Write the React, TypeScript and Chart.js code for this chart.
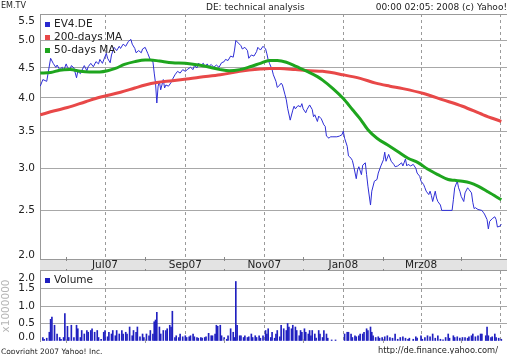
import React, { useEffect, useRef } from 'react';
import { Chart, registerables, LinearScale } from 'chart.js';

Chart.register(...registerables);

// ---------------- data ----------------
// x values are day numbers counted from 2007-01-01 (day 0)
const monthDays = [151, 181, 212, 243, 273, 304, 334, 365, 396, 425, 456, 486]; // Jun07 .. Mai08
const monthLabels = ['', 'Jul07', '', 'Sep07', '', 'Nov07', '', 'Jan08', '', 'Mrz08', '', ''];
const priceTicks = [2.0, 2.5, 3.0, 3.5, 4.0, 4.5, 5.0, 5.5];
const volumeTicks = [0, 0.5, 1.0, 1.5, 2.0];

const priceDays = [
  131, 133, 136, 139, 141, 143, 144, 146, 148, 149,
  151, 152, 154, 155, 157, 159, 160, 162, 163, 165,
  167, 168, 170, 172, 174, 176, 177, 179, 180, 182,
  183, 185, 186, 188, 190, 192, 193, 195, 197, 199,
  201, 202, 204, 205, 207, 209, 210, 212, 214, 216,
  218, 219, 220, 221, 222, 223, 224, 226, 227, 228,
  230, 232, 233, 235, 237, 239, 241, 243, 245, 247,
  249, 250, 252, 253, 255, 257, 258, 260, 261, 263,
  265, 267, 269, 271, 273, 274, 276, 278, 280, 281,
  282, 284, 286, 287, 289, 291, 292, 294, 296, 298,
  299, 301, 303, 305, 306, 307, 308, 310, 311, 313,
  314, 316, 317, 318, 320, 321, 322, 324, 326, 327,
  328, 330, 332, 333, 334, 336, 337, 339, 341, 342,
  343, 345, 346, 348, 350, 351, 352, 354, 355, 357,
  360, 362, 364, 365, 366, 368, 369, 371, 372, 373,
  375, 376, 377, 379, 380, 382, 383, 384, 386, 387,
  389, 391, 392, 394, 396, 397, 398, 400, 402, 404,
  405, 407, 410, 411, 413, 414, 415, 417, 419, 421,
  422, 424, 425, 427, 428, 429, 431, 432, 433, 434,
  436, 437, 438, 440, 441, 449, 450, 451, 453, 454,
  455, 456, 458, 459, 461, 462, 464, 465, 466, 467,
  469, 472, 473, 474, 476, 477, 478, 480, 482, 483,
  484, 486, 487,
];
const priceValues = [
  4.19, 4.30, 4.27, 4.67, 4.58, 4.51, 4.55, 4.47, 4.51, 4.45,
  4.57, 4.51, 4.47, 4.54, 4.50, 4.33, 4.44, 4.40, 4.45, 4.54,
  4.45, 4.52, 4.58, 4.52, 4.61, 4.57, 4.65, 4.58, 4.64, 4.76,
  4.67, 4.59, 4.73, 4.87, 4.81, 4.89, 4.85, 4.93, 4.89, 4.98,
  5.02, 4.93, 4.85, 4.77, 4.81, 4.77, 4.84, 4.87, 4.76, 4.64,
  4.61, 4.41, 4.24, 3.92, 4.19, 4.27, 4.13, 4.30, 4.16, 4.21,
  4.19, 4.25, 4.30, 4.38, 4.44, 4.41, 4.47, 4.44, 4.48, 4.51,
  4.47, 4.54, 4.50, 4.58, 4.55, 4.58, 4.52, 4.57, 4.52, 4.56,
  4.51, 4.55, 4.51, 4.59, 4.61, 4.65, 4.63, 4.71, 4.69, 4.82,
  5.00, 4.95, 4.90, 4.84, 4.87, 4.81, 4.67, 4.73, 4.71, 4.79,
  4.87, 4.82, 4.89, 4.84, 4.75, 4.64, 4.58, 4.47, 4.38, 4.27,
  4.17, 4.21, 4.24, 4.21, 4.05, 3.97, 3.84, 3.66, 3.81, 3.87,
  3.83, 3.88, 3.86, 3.91, 3.83, 3.77, 3.82, 3.89, 3.82, 3.71,
  3.74, 3.64, 3.72, 3.68, 3.59, 3.57, 3.43, 3.40, 3.42, 3.42,
  3.42, 3.43, 3.45, 3.50, 3.40, 3.29, 3.16, 3.13, 3.10, 3.03,
  2.87, 2.98, 3.02, 2.92, 3.04, 3.07, 2.92, 2.78, 2.56, 2.72,
  2.84, 2.86, 2.94, 3.03, 3.11, 3.21, 3.09, 3.18, 3.09, 3.05,
  3.02, 3.03, 3.07, 3.03, 3.12, 3.03, 3.05, 3.03, 3.05, 3.00,
  2.94, 2.90, 2.84, 2.80, 2.76, 2.72, 2.68, 2.72, 2.67, 2.60,
  2.72, 2.64, 2.60, 2.56, 2.50, 2.50, 2.62, 2.76, 2.84, 2.76,
  2.72, 2.66, 2.60, 2.70, 2.76, 2.74, 2.70, 2.59, 2.52, 2.53,
  2.51, 2.50, 2.48, 2.46, 2.40, 2.30, 2.38, 2.41, 2.43, 2.40,
  2.32, 2.33, 2.35,
];

const ma200Days = [131, 142, 152, 166, 177, 193, 204, 212, 221, 233, 244, 254, 270, 285, 301, 308, 316, 328, 339, 349, 365, 378, 390, 401, 411, 427, 442, 457, 473, 487];
const ma200Values = [3.74, 3.80, 3.85, 3.94, 4.01, 4.09, 4.16, 4.21, 4.25, 4.28, 4.31, 4.34, 4.38, 4.44, 4.48, 4.49, 4.49, 4.47, 4.45, 4.44, 4.38, 4.32, 4.24, 4.19, 4.15, 4.07, 3.97, 3.87, 3.74, 3.64];

const ma50Days = [131, 139, 146, 154, 162, 169, 177, 183, 189, 196, 204, 212, 216, 223, 233, 243, 253, 262, 270, 277, 285, 293, 301, 308, 314, 321, 329, 337, 345, 349, 357, 365, 372, 378, 384, 391, 399, 407, 415, 423, 430, 438, 446, 451, 457, 463, 469, 477, 487];
const ma50Values = [4.41, 4.42, 4.46, 4.47, 4.44, 4.43, 4.43, 4.45, 4.49, 4.56, 4.61, 4.64, 4.64, 4.62, 4.59, 4.58, 4.55, 4.51, 4.47, 4.45, 4.47, 4.52, 4.58, 4.63, 4.63, 4.60, 4.52, 4.44, 4.35, 4.29, 4.15, 3.99, 3.82, 3.68, 3.52, 3.40, 3.31, 3.22, 3.13, 3.07, 2.99, 2.92, 2.86, 2.85, 2.84, 2.82, 2.78, 2.71, 2.62];

// volume in millions
const volumeDays = [
  133, 134, 136, 138, 139, 140, 142, 144, 146, 147, 149, 150, 152, 153, 155, 157, 159, 160, 162, 163,
  165, 167, 168, 170, 171, 173, 175, 176, 178, 180, 181, 183, 184, 186, 187, 189, 190, 192, 194, 195,
  197, 198, 200, 202, 203, 205, 206, 208, 210, 211, 213, 215, 216, 218, 219, 220, 221, 223, 224, 226,
  228, 229, 231, 232, 233, 235, 236, 238, 239, 241, 243, 244, 246, 247, 249, 250, 252, 253, 255, 256,
  258, 259, 261, 263, 264, 266, 267, 268, 270, 271, 273, 275, 276, 278, 280, 281, 282, 283, 285, 286,
  288, 289, 291, 292, 294, 295, 297, 298, 300, 301, 303, 305, 306, 307, 309, 310, 312, 313, 314, 316,
  317, 319, 321, 322, 323, 325, 326, 328, 329, 331, 332, 333, 335, 336, 338, 339, 340, 341, 343, 344,
  346, 347, 349, 350, 352, 353, 356, 359, 366, 368, 369, 371, 372, 374, 375, 377, 378, 380, 381, 383,
  384, 386, 387, 388, 390, 392, 393, 395, 397, 399, 401, 403, 405, 407, 409, 411, 413, 415, 416, 419,
  421, 422, 425, 426, 428, 430, 432, 434, 436, 438, 440, 442, 444, 446, 447, 450, 451, 453, 455, 457,
  459, 461, 462, 464, 465, 467, 469, 471, 472, 475, 476, 477, 479, 480, 482, 483, 485, 487,
];
const volumeValues = [
  0.10, 0.05, 0.08, 0.25, 0.62, 0.68, 0.45, 0.20, 0.10, 0.05, 0.10, 0.78, 0.42, 0.10, 0.45, 0.10, 0.45, 0.35, 0.10, 0.30,
  0.20, 0.30, 0.25, 0.30, 0.35, 0.25, 0.30, 0.10, 0.05, 0.25, 0.30, 0.12, 0.25, 0.20, 0.30, 0.15, 0.30, 0.20, 0.30, 0.20,
  0.25, 0.20, 0.40, 0.15, 0.30, 0.25, 0.40, 0.12, 0.20, 0.10, 0.20, 0.15, 0.30, 0.20, 0.55, 0.60, 0.82, 0.40, 0.20, 0.30,
  0.30, 0.35, 0.45, 0.40, 0.85, 0.10, 0.15, 0.10, 0.20, 0.12, 0.15, 0.10, 0.12, 0.15, 0.20, 0.12, 0.10, 0.08, 0.10, 0.08,
  0.10, 0.12, 0.22, 0.15, 0.15, 0.20, 0.45, 0.42, 0.45, 0.15, 0.10, 0.05, 0.15, 0.35, 0.25, 0.10, 1.70, 0.45, 0.15, 0.15,
  0.10, 0.15, 0.10, 0.12, 0.20, 0.10, 0.15, 0.10, 0.15, 0.08, 0.15, 0.30, 0.20, 0.35, 0.10, 0.25, 0.08, 0.20, 0.30, 0.12,
  0.45, 0.35, 0.30, 0.50, 0.40, 0.35, 0.45, 0.40, 0.30, 0.15, 0.30, 0.25, 0.35, 0.25, 0.20, 0.30, 0.15, 0.30, 0.20, 0.08,
  0.30, 0.20, 0.10, 0.30, 0.20, 0.08, 0.03, 0.03, 0.20, 0.25, 0.25, 0.20, 0.10, 0.15, 0.12, 0.15, 0.20, 0.20, 0.25, 0.35,
  0.30, 0.40, 0.25, 0.15, 0.10, 0.12, 0.08, 0.10, 0.12, 0.15, 0.10, 0.08, 0.20, 0.05, 0.10, 0.12, 0.08, 0.05, 0.08, 0.05,
  0.12, 0.08, 0.15, 0.05, 0.10, 0.15, 0.12, 0.20, 0.08, 0.15, 0.05, 0.03, 0.10, 0.20, 0.08, 0.15, 0.10, 0.12, 0.08, 0.10,
  0.10, 0.08, 0.12, 0.15, 0.20, 0.12, 0.15, 0.20, 0.20, 0.15, 0.40, 0.15, 0.10, 0.12, 0.20, 0.10, 0.08, 0.05,
];

const X_MIN = 130.8;
const X_MAX = 491.4;
const FONT = '"DejaVu Sans", "Verdana", sans-serif';

// ---------------- custom scale: logarithmic of (value + 1) ----------------
const SHIFT = 1;
class ShiftLogScale extends LinearScale {
  static id = 'shiftlog';
  static defaults = {};
  getPixelForValue(value: number) {
    if (value === null || value === undefined) return NaN;
    const a = Math.log(this.min + SHIFT);
    const b = Math.log(this.max + SHIFT);
    return this.getPixelForDecimal((Math.log(value + SHIFT) - a) / (b - a));
  }
  getValueForPixel(pixel: number) {
    const a = Math.log(this.min + SHIFT);
    const b = Math.log(this.max + SHIFT);
    return Math.exp(a + this.getDecimalForPixel(pixel) * (b - a)) - SHIFT;
  }
}
Chart.register(ShiftLogScale as any);

const toXY = (xs: number[], ys: number[]) => xs.map((x, i) => ({ x, y: ys[i] }));

const monthTicks = (s: any) => {
  s.ticks = monthDays.map((v) => ({ value: v }));
};

// y tick labels drawn with clamping inside the plot (as in the original)
const yLabelPlugin = {
  id: 'yLabels',
  afterDraw(chart: any) {
    const s = chart.scales.y;
    const ctx = chart.ctx;
    ctx.save();
    ctx.font = `10.5px ${FONT}`;
    ctx.fillStyle = '#222';
    ctx.textAlign = 'right';
    ctx.textBaseline = 'middle';
    s.ticks.forEach((t: any) => {
      const p = s.getPixelForValue(t.value);
      const y = Math.min(Math.max(p, s.top + 7.5), s.bottom - 4);
      ctx.fillText(t.label, 35, y);
    });
    ctx.restore();
  },
};

const legendPlugin = {
  id: 'insideLegend',
  afterDraw(chart: any) {
    const ctx = chart.ctx;
    const o = chart.options.plugins.insideLegend;
    ctx.save();
    ctx.font = `10.5px ${FONT}`;
    ctx.textAlign = 'left';
    ctx.textBaseline = 'alphabetic';
    chart.data.datasets.forEach((ds: any, i: number) => {
      const y = o.y0 + i * o.dy;
      ctx.fillStyle = ds.legendColor || ds.borderColor || ds.backgroundColor;
      ctx.fillRect(45, y - 5, 5, 5);
      ctx.fillStyle = '#222';
      ctx.fillText(ds.label, 54, y);
    });
    ctx.restore();
  },
};

const bandPlugin = {
  id: 'band',
  beforeDraw(chart: any) {
    const { ctx, chartArea } = chart;
    const { left, right, bottom } = chartArea;
    ctx.save();
    ctx.fillStyle = '#e3e3e3';
    ctx.fillRect(left, bottom, right - left, 11);
    ctx.restore();
  },
  afterDraw(chart: any) {
    const { ctx, chartArea } = chart;
    const { left, right, top, bottom } = chartArea;
    const xs = chart.scales.x;
    ctx.save();
    ctx.strokeStyle = '#999';
    ctx.lineWidth = 1;
    ctx.beginPath();
    ctx.moveTo(left, top + 0.5);
    ctx.lineTo(right, top + 0.5);
    ctx.moveTo(left, bottom + 0.5);
    ctx.lineTo(right, bottom + 0.5);
    ctx.moveTo(left, bottom + 11.5);
    ctx.lineTo(right, bottom + 11.5);
    ctx.stroke();
    ctx.strokeStyle = '#888';
    ctx.beginPath();
    monthDays.forEach((d, i) => {
      if (i % 2 === 0) {
        const x = Math.round(xs.getPixelForValue(d)) + 0.5;
        ctx.moveTo(x, bottom - 2);
        ctx.lineTo(x, bottom + 2);
        ctx.moveTo(x, bottom + 10);
        ctx.lineTo(x, bottom + 13);
      }
    });
    ctx.stroke();
    ctx.restore();
  },
};

const volTickPlugin = {
  id: 'volTicks',
  afterDraw(chart: any) {
    const { ctx, chartArea } = chart;
    const xs = chart.scales.x;
    ctx.save();
    ctx.strokeStyle = '#999';
    ctx.lineWidth = 1;
    ctx.beginPath();
    monthDays.forEach((d, i) => {
      if (i % 2 === 0) {
        const x = Math.round(xs.getPixelForValue(d)) + 0.5;
        ctx.moveTo(x, chartArea.bottom - 2);
        ctx.lineTo(x, chartArea.bottom + 2);
      }
    });
    ctx.stroke();
    ctx.restore();
  },
};

const gridColorX = (ctx: any) => (ctx.index % 2 === 1 ? '#9a9a9a' : 'rgba(0,0,0,0)');

export default function App() {
  const mainRef = useRef<HTMLCanvasElement>(null);
  const volRef = useRef<HTMLCanvasElement>(null);

  useEffect(() => {
    const main = new Chart(mainRef.current as HTMLCanvasElement, {
      type: 'line',
      data: {
        datasets: [
          {
            label: 'EV4.DE',
            data: toXY(priceDays, priceValues),
            borderColor: '#2e2ed6',
            legendColor: '#2a2ad0',
            borderWidth: 1,
            pointRadius: 0,
            tension: 0,
            order: 3,
          } as any,
          {
            label: '200-days MA',
            data: toXY(ma200Days, ma200Values),
            borderColor: '#e84848',
            borderWidth: 3,
            pointRadius: 0,
            cubicInterpolationMode: 'monotone',
            order: 2,
          },
          {
            label: '50-days MA',
            data: toXY(ma50Days, ma50Values),
            borderColor: '#1ea51e',
            borderWidth: 3,
            pointRadius: 0,
            cubicInterpolationMode: 'monotone',
            order: 1,
          },
        ],
      },
      options: {
        animation: false,
        responsive: false,
        events: [],
        layout: { padding: { top: 14, right: 5, left: 0, bottom: 0 } },
        plugins: {
          legend: { display: false },
          tooltip: { enabled: false },
          insideLegend: { y0: 27, dy: 13 },
        } as any,
        scales: {
          x: {
            type: 'linear',
            bounds: 'data',
            min: X_MIN,
            max: X_MAX,
            offset: false,
            afterBuildTicks: monthTicks,
            afterFit: (s: any) => {
              s.height = 12;
            },
            grid: { color: gridColorX, drawTicks: false, offset: false },
            border: { display: false, dash: [3, 3] },
            ticks: {
              autoSkip: false,
              maxRotation: 0,
              padding: 0,
              color: '#222',
              font: { family: FONT, size: 10.5 },
              callback: (_v: any, i: number) => monthLabels[i] || '',
            },
          } as any,
          y: {
            type: 'shiftlog',
            bounds: 'data',
            min: 2.0,
            max: 5.525,
            afterBuildTicks: (s: any) => {
              s.ticks = priceTicks.map((v) => ({ value: v }));
            },
            afterFit: (s: any) => {
              s.width = 40;
            },
            grid: {
              color: (c: any) =>
                c.tick && (c.tick.value === 2.0 || c.tick.value === 5.5) ? 'rgba(0,0,0,0)' : '#a8a8a8',
              drawTicks: false,
            },
            border: { display: true, color: '#999' },
            ticks: { display: false, callback: (v: any) => Number(v).toFixed(1) },
          } as any,
        },
      },
      plugins: [bandPlugin, yLabelPlugin, legendPlugin],
    });

    const vol = new Chart(volRef.current as HTMLCanvasElement, {
      type: 'bar',
      data: {
        datasets: [
          {
            label: 'Volume',
            data: toXY(volumeDays, volumeValues),
            backgroundColor: '#2020c0',
            borderWidth: 0,
            barThickness: 1,
          } as any,
        ],
      },
      options: {
        animation: false,
        responsive: false,
        events: [],
        layout: { padding: { top: 1, right: 5, left: 0, bottom: 0 } },
        plugins: {
          legend: { display: false },
          tooltip: { enabled: false },
          insideLegend: { y0: 13, dy: 13 },
        } as any,
        scales: {
          x: {
            type: 'linear',
            bounds: 'data',
            min: X_MIN,
            max: X_MAX,
            offset: false,
            afterBuildTicks: monthTicks,
            afterFit: (s: any) => {
              s.height = 13;
            },
            grid: { color: gridColorX, drawTicks: false, offset: false },
            border: { display: false, dash: [3, 3] },
            ticks: { display: false },
          } as any,
          y: {
            type: 'linear',
            bounds: 'data',
            min: 0,
            max: 2.0,
            afterBuildTicks: (s: any) => {
              s.ticks = volumeTicks.map((v) => ({ value: v }));
            },
            afterFit: (s: any) => {
              s.width = 40;
            },
            grid: {
              color: (c: any) =>
                c.tick && (c.tick.value === 0 || c.tick.value === 2.0) ? 'rgba(0,0,0,0)' : '#a8a8a8',
              drawTicks: false,
            },
            border: { display: true, color: '#999' },
            ticks: { display: false, callback: (v: any) => Number(v).toFixed(1) },
            title: {
              display: true,
              text: 'x1000000',
              color: '#b5b5b5',
              font: { family: FONT, size: 10.5 },
              padding: { top: 0, bottom: 0 },
            },
          } as any,
        },
      },
      plugins: [volTickPlugin, yLabelPlugin, legendPlugin],
    });

    return () => {
      main.destroy();
      vol.destroy();
    };
  }, []);

  const textBase: React.CSSProperties = {
    position: 'absolute',
    fontFamily: FONT,
    color: '#222',
    lineHeight: 1,
    whiteSpace: 'nowrap',
  };

  return (
    <div
      style={{
        position: 'fixed',
        left: 0,
        top: 0,
        width: 512,
        height: 354,
        background: '#fff',
        overflow: 'hidden',
      }}
    >
      <canvas
        ref={mainRef}
        width={512}
        height={271}
        style={{ position: 'absolute', left: 0, top: 0, width: 512, height: 271 }}
      />
      <canvas
        ref={volRef}
        width={512}
        height={84}
        style={{ position: 'absolute', left: 0, top: 270, width: 512, height: 84 }}
      />
      <div style={{ ...textBase, left: 1, top: 2, fontSize: 8 }}>EM.TV</div>
      <div style={{ ...textBase, left: 206, top: 3, fontSize: 9 }}>DE: technical analysis</div>
      <div style={{ ...textBase, right: 5, top: 3, fontSize: 9 }}>00:00 02:05: 2008 (c) Yahoo!</div>
      <div style={{ ...textBase, left: 1, top: 348, fontSize: 7.5 }}>Copyright 2007 Yahoo! Inc.</div>
      <div style={{ ...textBase, right: 14, top: 346, fontSize: 8.3 }}>http://de.finance.yahoo.com/</div>
    </div>
  );
}
